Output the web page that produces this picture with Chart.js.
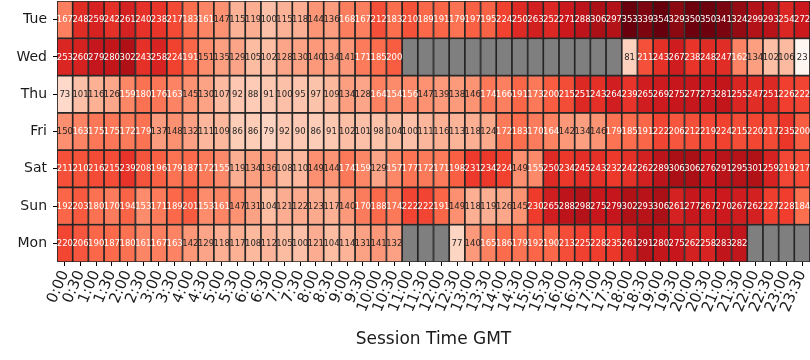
<!DOCTYPE html>
<html><head><meta charset="utf-8">
<script src="https://cdn.jsdelivr.net/npm/chart.js@4.4.0/dist/chart.umd.min.js"></script>
<style>html,body{margin:0;padding:0;background:#fff}#wrap{width:810px;height:360px}</style>
</head><body><div id="wrap"><canvas id="c" width="810" height="360"></canvas></div>
<script>
const days = ["Tue","Wed","Thu","Fri","Sat","Sun","Mon"];
const times = ["0:00","0:30","1:00","1:30","2:00","2:30","3:00","3:30","4:00","4:30","5:00","5:30",
"6:00","6:30","7:00","7:30","8:00","8:30","9:00","9:30","10:00","10:30","11:00","11:30",
"12:00","12:30","13:00","13:30","14:00","14:30","15:00","15:30","16:00","16:30","17:00","17:30",
"18:00","18:30","19:00","19:30","20:00","20:30","21:00","21:30","22:00","22:30","23:00","23:30"];
const N = null;
const tue = [167,248,259,242,261,240,238,217,183,161,147,115,119,100,115,118,144,136,168,167,212,183,210,189,191,179,197,195,224,250,263,252,271,288,306,297,353,339,354,329,350,350,341,324,299,293,254,272];
const wed = [253,260,279,280,302,243,258,224,191,151,135,129,105,102,128,130,140,134,141,171,185,200,N,N,N,N,N,N,N,N,N,N,N,N,N,N,81,211,243,267,238,248,247,162,134,102,106,23];
const thu = [73,101,116,126,159,180,176,163,145,130,107,92,88,91,100,95,97,109,134,128,164,154,156,147,139,138,146,174,166,191,173,200,215,251,243,264,239,265,269,275,277,273,281,255,247,251,226,222];
const fri = [150,163,175,175,172,179,137,148,132,111,109,86,86,79,92,90,86,91,102,101,98,104,100,111,116,113,118,124,172,183,170,164,142,134,146,179,185,191,222,206,212,219,224,215,220,217,235,200];
const sat = [211,210,216,215,239,208,196,179,187,172,155,119,134,136,108,110,149,144,174,159,129,157,177,172,171,198,231,234,224,149,155,250,234,245,243,232,242,262,289,306,306,276,291,295,301,259,219,217];
const sun = [192,203,180,170,194,153,171,189,201,153,161,147,131,104,121,122,123,117,140,170,188,174,222,222,191,149,118,119,126,145,230,265,288,298,275,279,302,293,306,261,277,267,270,267,262,227,228,184];
const mon = [220,206,190,187,180,161,167,163,142,129,118,117,108,112,105,100,121,104,114,131,141,132,N,N,N,77,140,165,186,179,192,190,213,225,228,235,261,291,280,275,262,258,283,282,N,N,N,N];
const values = [tue,wed,thu,fri,sat,sun,mon];

const reds = [[255,245,240],[254,224,210],[252,187,161],[252,146,114],[251,106,74],[239,59,44],[203,24,29],[165,15,21],[103,0,13]];
const all = values.flat().filter(v=>v!=null);
const vmin = Math.min(...all), vmax = Math.max(...all);
function rgbFor(v){
  let t = (v - vmin)/(vmax - vmin); t = Math.max(0, Math.min(1, t));
  const p = t*(reds.length-1); const i = Math.min(Math.floor(p), reds.length-2); const f = p - i;
  return reds[i].map((c,k)=>Math.round(c + (reds[i+1][k]-c)*f));
}
function colorFor(v){ if (v==null) return '#7f7f7f'; const c = rgbFor(v); return `rgb(${c[0]},${c[1]},${c[2]})`; }
function textColor(v){
  const c = rgbFor(v).map(x=>{x/=255; return x<=0.03928? x/12.92 : Math.pow((x+0.055)/1.055,2.4);});
  const lum = 0.2126*c[0]+0.7152*c[1]+0.0722*c[2];
  return lum > 0.408 ? '#262626' : '#ffffff';
}

const annot = {id:'annot', afterDatasetsDraw(chart){
  const ctx = chart.ctx; ctx.save();
  ctx.font = '8.5px "DejaVu Sans"'; ctx.textAlign='center'; ctx.textBaseline='middle';
  chart.data.datasets.forEach((ds,i)=>{
    chart.getDatasetMeta(i).data.forEach((el,j)=>{
      const v = values[i][j]; if (v==null) return;
      const p = el.getCenterPoint();
      ctx.fillStyle = textColor(v); ctx.fillText(String(v), p.x, p.y+0.5);
    });
  });
  ctx.restore();
}};

new Chart(document.getElementById('c'), {
  type:'bar',
  data:{labels:times, datasets: days.map((d,i)=>({
    label:d, data: times.map(()=>[i-0.5, i+0.5]),
    backgroundColor: values[i].map(colorFor),
    borderColor:'#262626', borderWidth:1.2, borderSkipped:false,
    barPercentage:1, categoryPercentage:1, grouped:false
  }))},
  options:{
    responsive:false, animation:false,
    layout:{padding:{top:1,right:0,left:0,bottom:0}},
    plugins:{legend:{display:false}, tooltip:{enabled:false}},
    scales:{
      x:{type:'category', offset:true,
        grid:{display:true, drawOnChartArea:false, offset:false, tickLength:4, color:'#000'},
        border:{display:false},
        ticks:{minRotation:67, maxRotation:67, autoSkip:false, padding:2, color:'#1a1a1a', font:{size:15, family:'DejaVu Sans'}},
        title:{display:true, text:'Session Time GMT', color:'#1a1a1a', font:{size:17, family:'DejaVu Sans'}, padding:{top:4,bottom:10}},
        afterFit(s){ s.height = 98; s.paddingLeft = 0; s.paddingRight = 0; }
      },
      y:{type:'linear', min:-0.5, max:6.5, reverse:true,
        afterBuildTicks(s){ s.ticks = days.map((d,i)=>({value:i})); },
        grid:{display:true, drawOnChartArea:false, tickLength:4, color:'#000'},
        border:{display:false},
        ticks:{callback:(v)=>days[v], padding:6, color:'#1a1a1a', font:{size:14, family:'DejaVu Sans'}},
        afterFit(s){ s.width = 57; s.paddingTop = 0; s.paddingBottom = 0; }
      }
    }
  },
  plugins:[annot]
});
</script></body></html>
